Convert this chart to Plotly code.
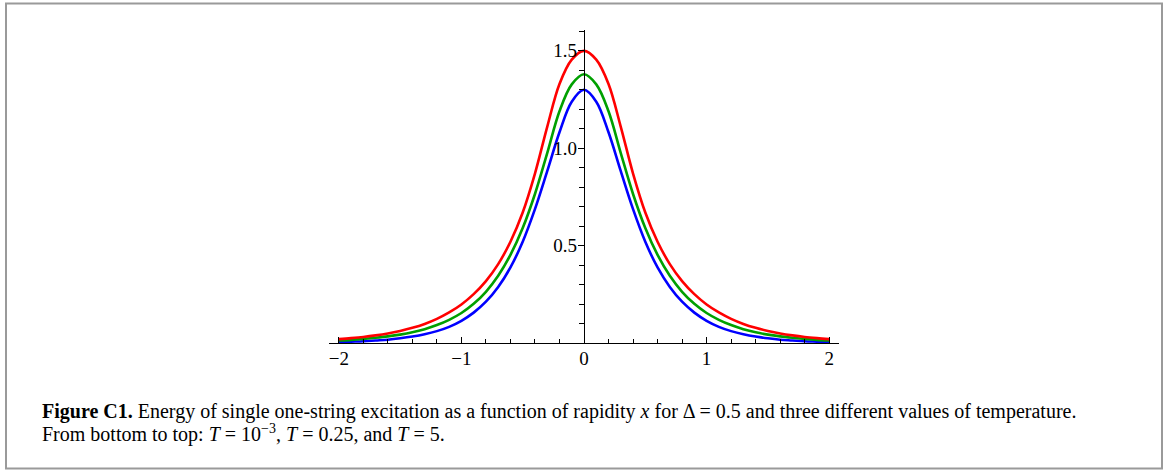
import plotly.graph_objects as go

W, H = 1168, 470

# rapidity grid
x_vals = [-2.0, -1.9, -1.8, -1.7, -1.6, -1.5, -1.4, -1.3, -1.2, -1.1,
          -1.0, -0.9, -0.8, -0.7, -0.6, -0.5, -0.4, -0.3, -0.2, -0.1,
          0.0,
          0.1, 0.2, 0.3, 0.4, 0.5, 0.6, 0.7, 0.8, 0.9, 1.0,
          1.1, 1.2, 1.3, 1.4, 1.5, 1.6, 1.7, 1.8, 1.9, 2.0]

# T = 1e-3 (blue, bottom)
e_T_low = [0.005, 0.007, 0.009, 0.013, 0.017, 0.024, 0.033, 0.045, 0.061, 0.083,
           0.114, 0.156, 0.212, 0.288, 0.388, 0.520, 0.687, 0.882, 1.082, 1.239,
           1.300,
           1.239, 1.082, 0.882, 0.687, 0.520, 0.388, 0.288, 0.212, 0.156, 0.114,
           0.083, 0.061, 0.045, 0.033, 0.024, 0.017, 0.013, 0.009, 0.007, 0.005]

# T = 0.25 (green, middle)
e_T_mid = [0.013, 0.016, 0.021, 0.027, 0.034, 0.043, 0.055, 0.071, 0.092, 0.119,
           0.154, 0.201, 0.263, 0.345, 0.452, 0.590, 0.765, 0.975, 1.190, 1.328,
           1.380,
           1.328, 1.190, 0.975, 0.765, 0.590, 0.452, 0.345, 0.263, 0.201, 0.154,
           0.119, 0.092, 0.071, 0.055, 0.043, 0.034, 0.027, 0.021, 0.016, 0.013]

# T = 5 (red, top)
e_T_high = [0.020, 0.025, 0.031, 0.039, 0.049, 0.062, 0.078, 0.098, 0.124, 0.157,
            0.198, 0.251, 0.318, 0.405, 0.520, 0.670, 0.870, 1.110, 1.330, 1.455,
            1.500,
            1.455, 1.330, 1.110, 0.870, 0.670, 0.520, 0.405, 0.318, 0.251, 0.198,
            0.157, 0.124, 0.098, 0.078, 0.062, 0.049, 0.039, 0.031, 0.025, 0.020]

x_ticks = [-2, -1, 0, 1, 2]
x_ticktext = ["\u22122", "\u22121", "0", "1", "2"]
y_ticks = [0.5, 1.0, 1.5]
y_ticktext = ["0.5", "1.0", "1.5"]

series = [
    ("T = 10^-3", e_T_low, "#0000ff"),
    ("T = 0.25", e_T_mid, "#00a000"),
    ("T = 5", e_T_high, "#ff0000"),
]

FONT = "Liberation Serif"

fig = go.Figure()
for name, ys, col in series:
    fig.add_trace(go.Scatter(x=x_vals, y=ys, mode="lines", name=name,
                             line=dict(color=col, width=2.6, shape="spline", smoothing=1.0),
                             showlegend=False, hoverinfo="skip"))

# pixel geometry of plot area
px_left, px_right = 329, 839
py_top, py_bottom = 30, 343

fig.update_layout(
    width=W, height=H,
    margin=dict(l=0, r=0, t=0, b=0, autoexpand=False),
    paper_bgcolor="white", plot_bgcolor="white",
    font=dict(family=FONT, size=19, color="black"),
    xaxis=dict(
        domain=[px_left / W, px_right / W],
        range=[-2.08, 2.08],
        showgrid=False, zeroline=False,
        showline=True, linecolor="black", linewidth=1.3,
        tickmode="array", tickvals=x_ticks, ticktext=x_ticktext,
        ticks="inside", ticklen=6, tickwidth=1.2, tickcolor="black",
        tickfont=dict(family=FONT, size=19, color="black"),
        ticklabelstandoff=-2,
        minor=dict(tickmode="linear", tick0=0, dtick=0.2, ticks="inside",
                   ticklen=3.5, tickwidth=1, tickcolor="black", showgrid=False),
        fixedrange=True,
    ),
    yaxis=dict(
        domain=[1 - py_bottom / H, 1 - py_top / H],
        range=[0, 1.607],
        anchor="free", position=0.5,
        showgrid=False, zeroline=False,
        showline=True, linecolor="black", linewidth=1.3,
        tickmode="array", tickvals=y_ticks, ticktext=y_ticktext,
        ticks="outside", ticklen=6, tickwidth=1.2, tickcolor="black",
        tickfont=dict(family=FONT, size=19, color="black"),
        ticklabelstandoff=-3,
        minor=dict(tickmode="linear", tick0=0, dtick=0.1, ticks="outside",
                   ticklen=4.5, tickwidth=1, tickcolor="black", showgrid=False),
        fixedrange=True,
    ),
    shapes=[dict(type="rect", xref="paper", yref="paper",
                 x0=6 / W, x1=1162 / W, y0=1 - 468.5 / H, y1=1 - 3.5 / H,
                 line=dict(color="#9a9a9a", width=2), fillcolor="rgba(0,0,0,0)",
                 layer="below")],
    annotations=[
        dict(xref="paper", yref="paper", x=40 / W, y=1 - 411 / H,
             xanchor="left", yanchor="middle", showarrow=False,
             font=dict(family=FONT, size=20, color="black"),
             text="<b>Figure C1.</b> Energy of single one-string excitation as a function of rapidity "
                  "<i>x</i> for \u0394 = 0.5 and three different values of temperature."),
        dict(xref="paper", yref="paper", x=40 / W, y=1 - 433 / H,
             xanchor="left", yanchor="middle", showarrow=False,
             font=dict(family=FONT, size=20, color="black"),
             text="From bottom to top: <i>T</i> = 10<sup>\u22123</sup>, <i>T</i> = 0.25, and <i>T</i> = 5."),
    ],
)

fig.write_html("out.html")
